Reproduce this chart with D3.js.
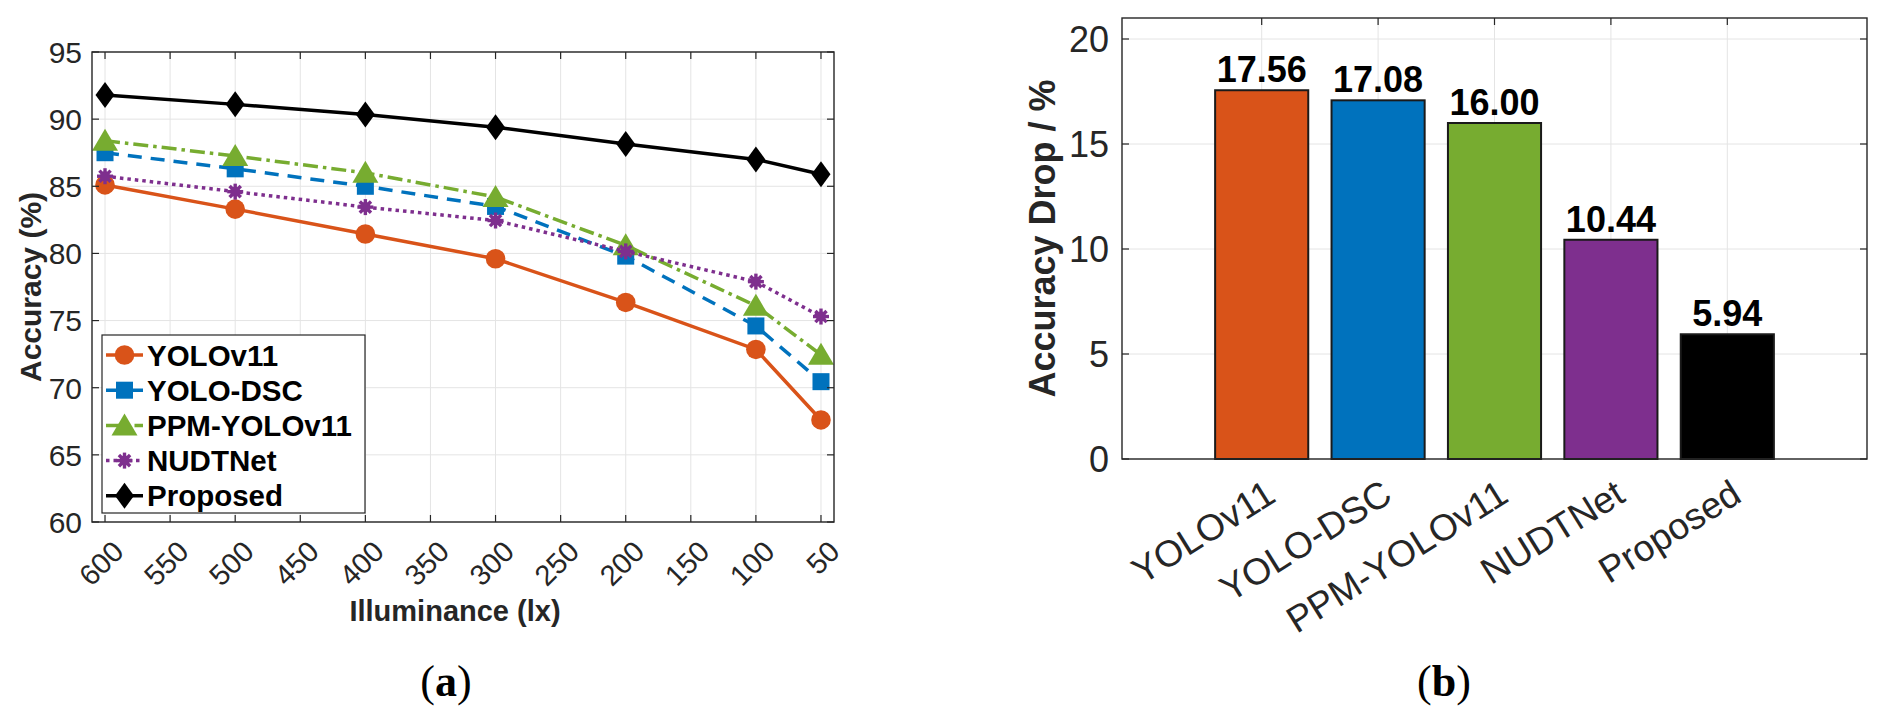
<!DOCTYPE html>
<html>
<head>
<meta charset="utf-8">
<script src="https://cdn.jsdelivr.net/npm/d3@7"></script>
<style>
  body { margin: 0; background: #fff; }
  svg { display: block; font-family: "Liberation Sans", Arial, Helvetica, sans-serif; }
</style>
</head>
<body>
<svg width="1888" height="721"></svg>
<script>
// ---- data (a) ----
const illum = [600, 500, 400, 300, 200, 100, 50];
const accYolov11 = [85.1, 83.3, 81.45, 79.6, 76.35, 72.85, 67.6];
const accYoloDsc = [87.5, 86.3, 85.0, 83.5, 79.8, 74.6, 70.45];
const accPpm = [88.4, 87.25, 86.0, 84.2, 80.6, 76.1, 72.45];
const accNudt = [85.75, 84.6, 83.45, 82.45, 80.15, 77.9, 75.3];
const accProposed = [91.8, 91.1, 90.35, 89.4, 88.15, 87.0, 85.9];
const xTicksA = [600, 550, 500, 450, 400, 350, 300, 250, 200, 150, 100, 50];
const yTicksA = [60, 65, 70, 75, 80, 85, 90, 95];

// ---- data (b) ----
const methods = ['YOLOv11', 'YOLO-DSC', 'PPM-YOLOv11', 'NUDTNet', 'Proposed'];
const drops = [17.56, 17.08, 16.00, 10.44, 5.94];
const yTicksB = [0, 5, 10, 15, 20];

const colors = ['#D95319', '#0072BD', '#77AC30', '#7E2F8E', '#000000'];
const AXIS = '#262626', GRID = '#e4e4e4';

const svg = d3.select('svg');

// ================= chart (a) =================
const A = { l: 92, r: 834, t: 52, b: 522 };
const xA = d3.scaleLinear().domain([610, 40]).range([A.l, A.r]);
const yA = d3.scaleLinear().domain([60, 95]).range([A.b, A.t]);
const ga = svg.append('g');

ga.selectAll('.vg').data(xTicksA).enter().append('line')
  .attr('x1', d => xA(d)).attr('x2', d => xA(d))
  .attr('y1', A.t).attr('y2', A.b)
  .attr('stroke', GRID).attr('stroke-width', 1);
ga.selectAll('.hg').data(yTicksA).enter().append('line')
  .attr('x1', A.l).attr('x2', A.r)
  .attr('y1', d => yA(d)).attr('y2', d => yA(d))
  .attr('stroke', GRID).attr('stroke-width', 1);

const seriesA = [
  { name: 'YOLOv11', vals: accYolov11, dash: null, marker: 'circle' },
  { name: 'YOLO-DSC', vals: accYoloDsc, dash: '14,9', marker: 'square' },
  { name: 'PPM-YOLOv11', vals: accPpm, dash: '15,5,3.5,5', marker: 'triangle' },
  { name: 'NUDTNet', vals: accNudt, dash: '3.5,4', marker: 'star' },
  { name: 'Proposed', vals: accProposed, dash: null, marker: 'diamond' }
];

function drawMarker(g, type, x, y, color) {
  if (type === 'circle') {
    g.append('circle').attr('cx', x).attr('cy', y).attr('r', 9.8).attr('fill', color);
  } else if (type === 'square') {
    g.append('rect').attr('x', x - 8.5).attr('y', y - 8.5).attr('width', 17).attr('height', 17).attr('fill', color);
  } else if (type === 'triangle') {
    g.append('path').attr('d', `M${x},${y - 12}L${x + 13},${y + 10}L${x - 13},${y + 10}Z`).attr('fill', color);
  } else if (type === 'diamond') {
    g.append('path').attr('d', `M${x},${y - 13}L${x + 9.5},${y}L${x},${y + 13}L${x - 9.5},${y}Z`).attr('fill', color);
  } else if (type === 'star') {
    const s = 8;
    [[s, 0], [0, s], [s * 0.7, s * 0.7], [s * 0.7, -s * 0.7]].forEach(function(p) {
      g.append('line')
        .attr('x1', x - p[0]).attr('y1', y - p[1]).attr('x2', x + p[0]).attr('y2', y + p[1])
        .attr('stroke', color).attr('stroke-width', 3.4);
    });
    g.append('circle').attr('cx', x).attr('cy', y).attr('r', 5).attr('fill', color);
  }
}

const lineA = d3.line().x((d, i) => xA(illum[i])).y(d => yA(d));
seriesA.forEach(function(s, k) {
  const g = ga.append('g');
  g.append('path').datum(s.vals)
    .attr('d', lineA)
    .attr('fill', 'none')
    .attr('stroke', colors[k])
    .attr('stroke-width', 3.5)
    .attr('stroke-dasharray', s.dash);
  s.vals.forEach(function(v, i) { drawMarker(g, s.marker, xA(illum[i]), yA(v), colors[k]); });
});

// box + inward ticks
ga.append('rect').attr('x', A.l).attr('y', A.t).attr('width', A.r - A.l).attr('height', A.b - A.t)
  .attr('fill', 'none').attr('stroke', AXIS).attr('stroke-width', 1.4);
xTicksA.forEach(function(d) {
  ga.append('line').attr('x1', xA(d)).attr('x2', xA(d)).attr('y1', A.b).attr('y2', A.b - 7).attr('stroke', AXIS).attr('stroke-width', 1.2);
  ga.append('line').attr('x1', xA(d)).attr('x2', xA(d)).attr('y1', A.t).attr('y2', A.t + 7).attr('stroke', AXIS).attr('stroke-width', 1.2);
});
yTicksA.forEach(function(d) {
  ga.append('line').attr('x1', A.l).attr('x2', A.l + 7).attr('y1', yA(d)).attr('y2', yA(d)).attr('stroke', AXIS).attr('stroke-width', 1.2);
  ga.append('line').attr('x1', A.r).attr('x2', A.r - 7).attr('y1', yA(d)).attr('y2', yA(d)).attr('stroke', AXIS).attr('stroke-width', 1.2);
});

// tick labels
ga.selectAll('.yl').data(yTicksA).enter().append('text')
  .attr('x', A.l - 10).attr('y', d => yA(d))
  .attr('dy', '0.36em').attr('text-anchor', 'end')
  .attr('font-size', 30).attr('fill', AXIS)
  .text(d => d);
ga.selectAll('.xl').data(xTicksA).enter().append('text')
  .attr('transform', d => `translate(${xA(d) + 13},${A.b + 24}) rotate(-45)`)
  .attr('dy', '0.36em').attr('text-anchor', 'end')
  .attr('font-size', 29).attr('fill', AXIS)
  .text(d => d);

ga.append('text')
  .attr('transform', `translate(41,${(A.t + A.b) / 2}) rotate(-90)`)
  .attr('text-anchor', 'middle').attr('font-weight', 'bold')
  .attr('font-size', 30).attr('fill', AXIS)
  .text('Accuracy (%)');
ga.append('text')
  .attr('x', (A.l + A.r) / 2 - 8).attr('y', 621)
  .attr('text-anchor', 'middle').attr('font-weight', 'bold')
  .attr('font-size', 29).attr('fill', AXIS)
  .text('Illuminance (lx)');

// legend
const lg = ga.append('g');
lg.append('rect').attr('x', 102).attr('y', 335).attr('width', 263).attr('height', 178)
  .attr('fill', '#fff').attr('stroke', AXIS).attr('stroke-width', 1.2);
seriesA.forEach(function(s, k) {
  const y = 355 + k * 35.2;
  lg.append('line').attr('x1', 106).attr('x2', 143).attr('y1', y).attr('y2', y)
    .attr('stroke', colors[k]).attr('stroke-width', 3.5).attr('stroke-dasharray', s.dash);
  drawMarker(lg, s.marker, 124.5, y, colors[k]);
  lg.append('text').attr('x', 147).attr('y', y).attr('dy', '0.36em')
    .attr('font-size', 29.5).attr('font-weight', 'bold').attr('fill', '#000')
    .text(s.name);
});

// ================= chart (b) =================
const B = { l: 1122, r: 1867, t: 18, b: 459 };
const xB = d3.scaleLinear().domain([-0.2, 6.2]).range([B.l, B.r]);
const yB = d3.scaleLinear().domain([0, 21]).range([B.b, B.t]);
const gb = svg.append('g');

gb.selectAll('.vg').data(methods).enter().append('line')
  .attr('x1', (d, i) => xB(i + 1)).attr('x2', (d, i) => xB(i + 1))
  .attr('y1', B.t).attr('y2', B.b)
  .attr('stroke', GRID).attr('stroke-width', 1);
gb.selectAll('.hg').data(yTicksB).enter().append('line')
  .attr('x1', B.l).attr('x2', B.r)
  .attr('y1', d => yB(d)).attr('y2', d => yB(d))
  .attr('stroke', GRID).attr('stroke-width', 1);

gb.selectAll('.bar').data(drops).enter().append('rect')
  .attr('x', (d, i) => xB(i + 1 - 0.4))
  .attr('width', xB(0.8) - xB(0))
  .attr('y', d => yB(d))
  .attr('height', d => yB(0) - yB(d))
  .attr('fill', (d, i) => colors[i])
  .attr('stroke', '#1a1a1a').attr('stroke-width', 2);

gb.selectAll('.bl').data(drops).enter().append('text')
  .attr('x', (d, i) => xB(i + 1)).attr('y', d => yB(d) - 8)
  .attr('text-anchor', 'middle').attr('font-weight', 'bold')
  .attr('font-size', 36).attr('fill', '#000')
  .text(d => d.toFixed(2));

gb.append('rect').attr('x', B.l).attr('y', B.t).attr('width', B.r - B.l).attr('height', B.b - B.t)
  .attr('fill', 'none').attr('stroke', AXIS).attr('stroke-width', 1.4);
methods.forEach(function(d, i) {
  gb.append('line').attr('x1', xB(i + 1)).attr('x2', xB(i + 1)).attr('y1', B.t).attr('y2', B.t + 7).attr('stroke', AXIS).attr('stroke-width', 1.2);
});
yTicksB.forEach(function(d) {
  gb.append('line').attr('x1', B.l).attr('x2', B.l + 7).attr('y1', yB(d)).attr('y2', yB(d)).attr('stroke', AXIS).attr('stroke-width', 1.2);
  gb.append('line').attr('x1', B.r).attr('x2', B.r - 7).attr('y1', yB(d)).attr('y2', yB(d)).attr('stroke', AXIS).attr('stroke-width', 1.2);
});

gb.selectAll('.yl').data(yTicksB).enter().append('text')
  .attr('x', B.l - 13).attr('y', d => yB(d))
  .attr('dy', '0.36em').attr('text-anchor', 'end')
  .attr('font-size', 36).attr('fill', AXIS)
  .text(d => d);
gb.selectAll('.xl').data(methods).enter().append('text')
  .attr('transform', (d, i) => `translate(${xB(i + 1) + 9},${B.b + 30}) rotate(-32)`)
  .attr('dy', '0.36em').attr('text-anchor', 'end')
  .attr('font-size', 37).attr('fill', AXIS)
  .text(d => d);

gb.append('text')
  .attr('transform', `translate(1055,${(B.t + B.b) / 2}) rotate(-90)`)
  .attr('text-anchor', 'middle').attr('font-weight', 'bold')
  .attr('font-size', 36).attr('fill', AXIS)
  .text('Accuracy Drop / %');

// panel captions
[['a', 446], ['b', 1444]].forEach(function(p) {
  const t = svg.append('text').attr('x', p[1]).attr('y', 696)
    .attr('text-anchor', 'middle')
    .attr('font-family', '"Liberation Serif", "DejaVu Serif", serif')
    .attr('font-size', 44).attr('fill', '#000');
  t.append('tspan').text('(');
  t.append('tspan').attr('font-weight', 'bold').text(p[0]);
  t.append('tspan').text(')');
});
</script>
</body>
</html>
